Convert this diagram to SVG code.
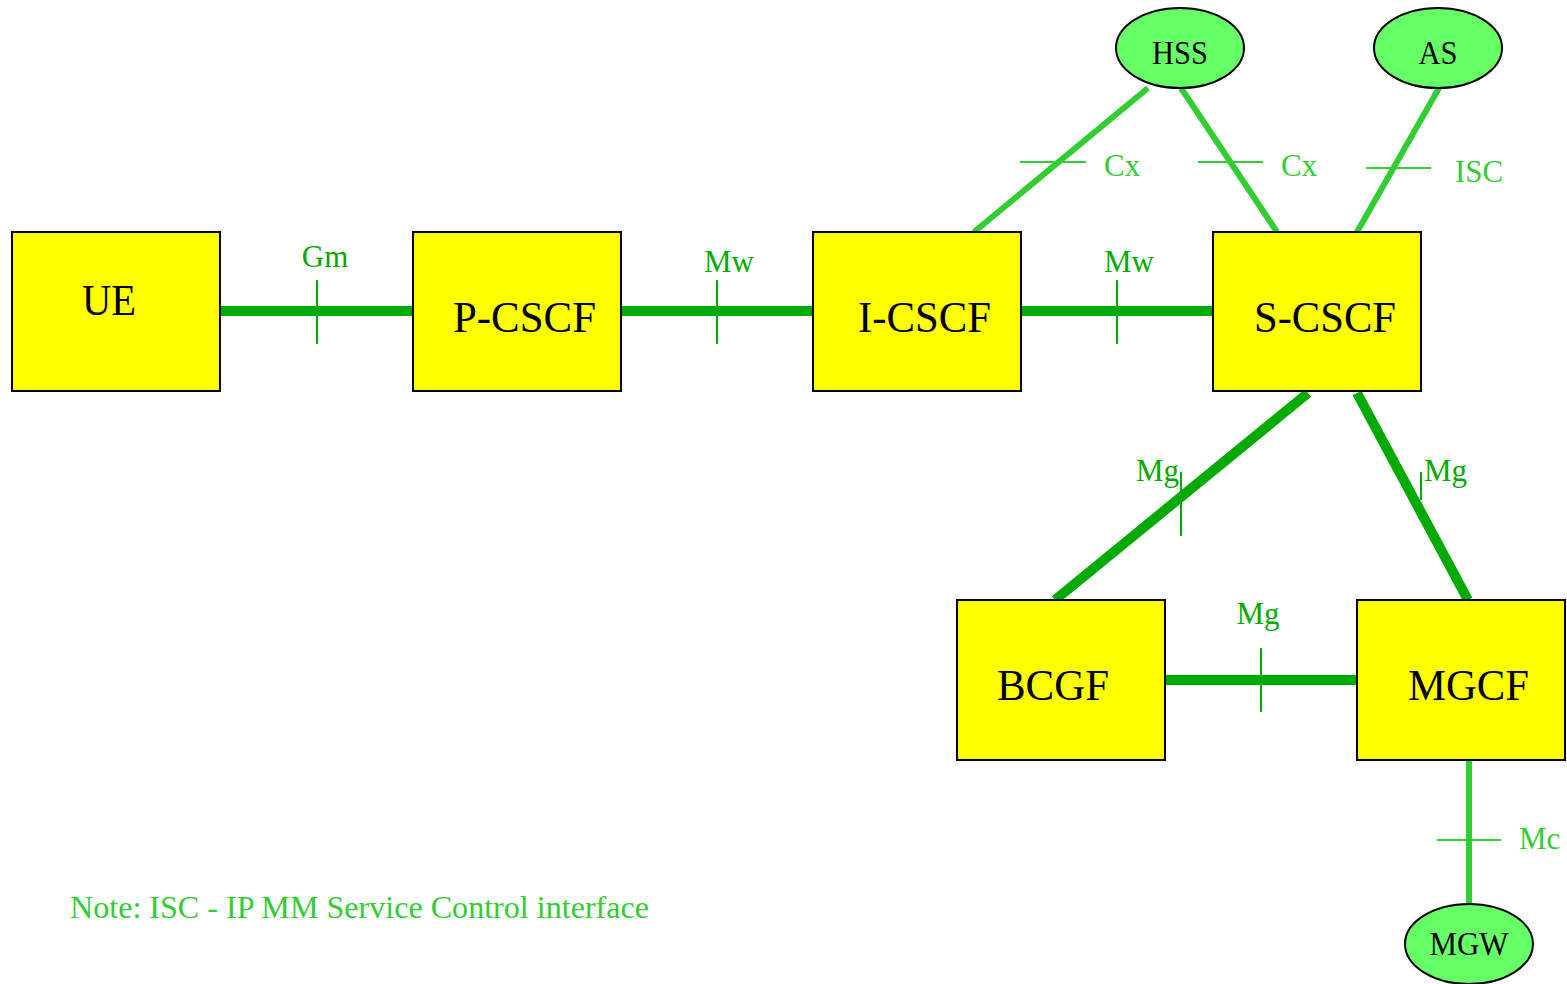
<svg xmlns="http://www.w3.org/2000/svg" width="1567" height="984" viewBox="0 0 1567 984">
<style>
.box{fill:#ffff00;stroke:#000;stroke-width:2}
.ell{fill:#66ff66;stroke:#000;stroke-width:2}
.nt{font-family:"Liberation Serif",serif;font-size:45px;fill:#000}
.et{font-family:"Liberation Serif",serif;font-size:33px;fill:#000;text-anchor:middle}
.dk{stroke:#00aa00;stroke-width:10;fill:none}
.lt{stroke:#33cc33;stroke-width:6;fill:none}
.dtk{stroke:#00aa00;stroke-width:2}
.ltk{stroke:#33cc33;stroke-width:2}
.dl{font-family:"Liberation Serif",serif;font-size:31px;fill:#00aa00}
.ll{font-family:"Liberation Serif",serif;font-size:31px;fill:#33cc33}
</style>
<rect width="1567" height="984" fill="#fff"/>
<g id="connectors">
<line class="dk" x1="220" y1="311" x2="413" y2="311"/>
<line class="dtk" x1="317" y1="280" x2="317" y2="344"/>
<text class="dl" x="325" y="267" text-anchor="middle">Gm</text>
<line class="dk" x1="621" y1="311" x2="813" y2="311"/>
<line class="dtk" x1="717" y1="280" x2="717" y2="344"/>
<text class="dl" x="729" y="272" text-anchor="middle">Mw</text>
<line class="dk" x1="1021" y1="311" x2="1213" y2="311"/>
<line class="dtk" x1="1117" y1="280" x2="1117" y2="344"/>
<text class="dl" x="1129" y="272" text-anchor="middle">Mw</text>
<line class="lt" x1="1148" y1="88" x2="974" y2="232"/>
<line class="ltk" x1="1020" y1="162" x2="1086" y2="162"/>
<text class="ll" x="1104" y="176">Cx</text>
<line class="lt" x1="1181" y1="88" x2="1277" y2="232"/>
<line class="ltk" x1="1198" y1="162" x2="1263" y2="162"/>
<text class="ll" x="1281" y="176">Cx</text>
<line class="lt" x1="1439" y1="88" x2="1357" y2="232"/>
<line class="ltk" x1="1366" y1="168" x2="1431" y2="168"/>
<text class="ll" x="1455" y="182">ISC</text>
<line class="dk" x1="1308" y1="393" x2="1055" y2="600"/>
<line class="dtk" x1="1181" y1="472" x2="1181" y2="536"/>
<text class="dl" x="1136" y="481">Mg</text>
<line class="dk" x1="1357" y1="393" x2="1468" y2="600"/>
<line class="dtk" x1="1421" y1="472" x2="1421" y2="500"/>
<text class="dl" x="1424" y="481">Mg</text>
<line class="dk" x1="1165" y1="680" x2="1357" y2="680"/>
<line class="dtk" x1="1261" y1="648" x2="1261" y2="712"/>
<text class="dl" x="1258" y="624" text-anchor="middle">Mg</text>
<line class="lt" x1="1469" y1="760" x2="1469" y2="905"/>
<line class="ltk" x1="1437" y1="840" x2="1501" y2="840"/>
<text class="ll" x="1519" y="849">Mc</text>
</g>
<g id="UE"><rect class="box" x="12" y="232" width="208" height="159"/><text class="nt" x="82" y="315" textLength="54" lengthAdjust="spacingAndGlyphs">UE</text></g>
<g id="P-CSCF"><rect class="box" x="413" y="232" width="208" height="159"/><text class="nt" x="453" y="332" textLength="143" lengthAdjust="spacingAndGlyphs">P-CSCF</text></g>
<g id="I-CSCF"><rect class="box" x="813" y="232" width="208" height="159"/><text class="nt" x="858" y="332" textLength="133" lengthAdjust="spacingAndGlyphs">I-CSCF</text></g>
<g id="S-CSCF"><rect class="box" x="1213" y="232" width="208" height="159"/><text class="nt" x="1254" y="332" textLength="142" lengthAdjust="spacingAndGlyphs">S-CSCF</text></g>
<g id="BCGF"><rect class="box" x="957" y="600" width="208" height="160"/><text class="nt" x="997" y="700" textLength="112" lengthAdjust="spacingAndGlyphs">BCGF</text></g>
<g id="MGCF"><rect class="box" x="1357" y="600" width="208" height="160"/><text class="nt" x="1408" y="700" textLength="121" lengthAdjust="spacingAndGlyphs">MGCF</text></g>
<g id="HSS"><ellipse class="ell" cx="1180" cy="48" rx="64" ry="40"/><text class="et" x="1180" y="64" textLength="56" lengthAdjust="spacingAndGlyphs">HSS</text></g>
<g id="AS"><ellipse class="ell" cx="1438" cy="48" rx="64" ry="40"/><text class="et" x="1438" y="64" textLength="39" lengthAdjust="spacingAndGlyphs">AS</text></g>
<g id="MGW"><ellipse class="ell" cx="1469" cy="944" rx="64" ry="40"/><text class="et" x="1469" y="955" textLength="79" lengthAdjust="spacingAndGlyphs">MGW</text></g>
<text class="ll" x="70" y="918" font-size="32" textLength="579" lengthAdjust="spacingAndGlyphs">Note: ISC - IP MM Service Control interface</text>
</svg>
